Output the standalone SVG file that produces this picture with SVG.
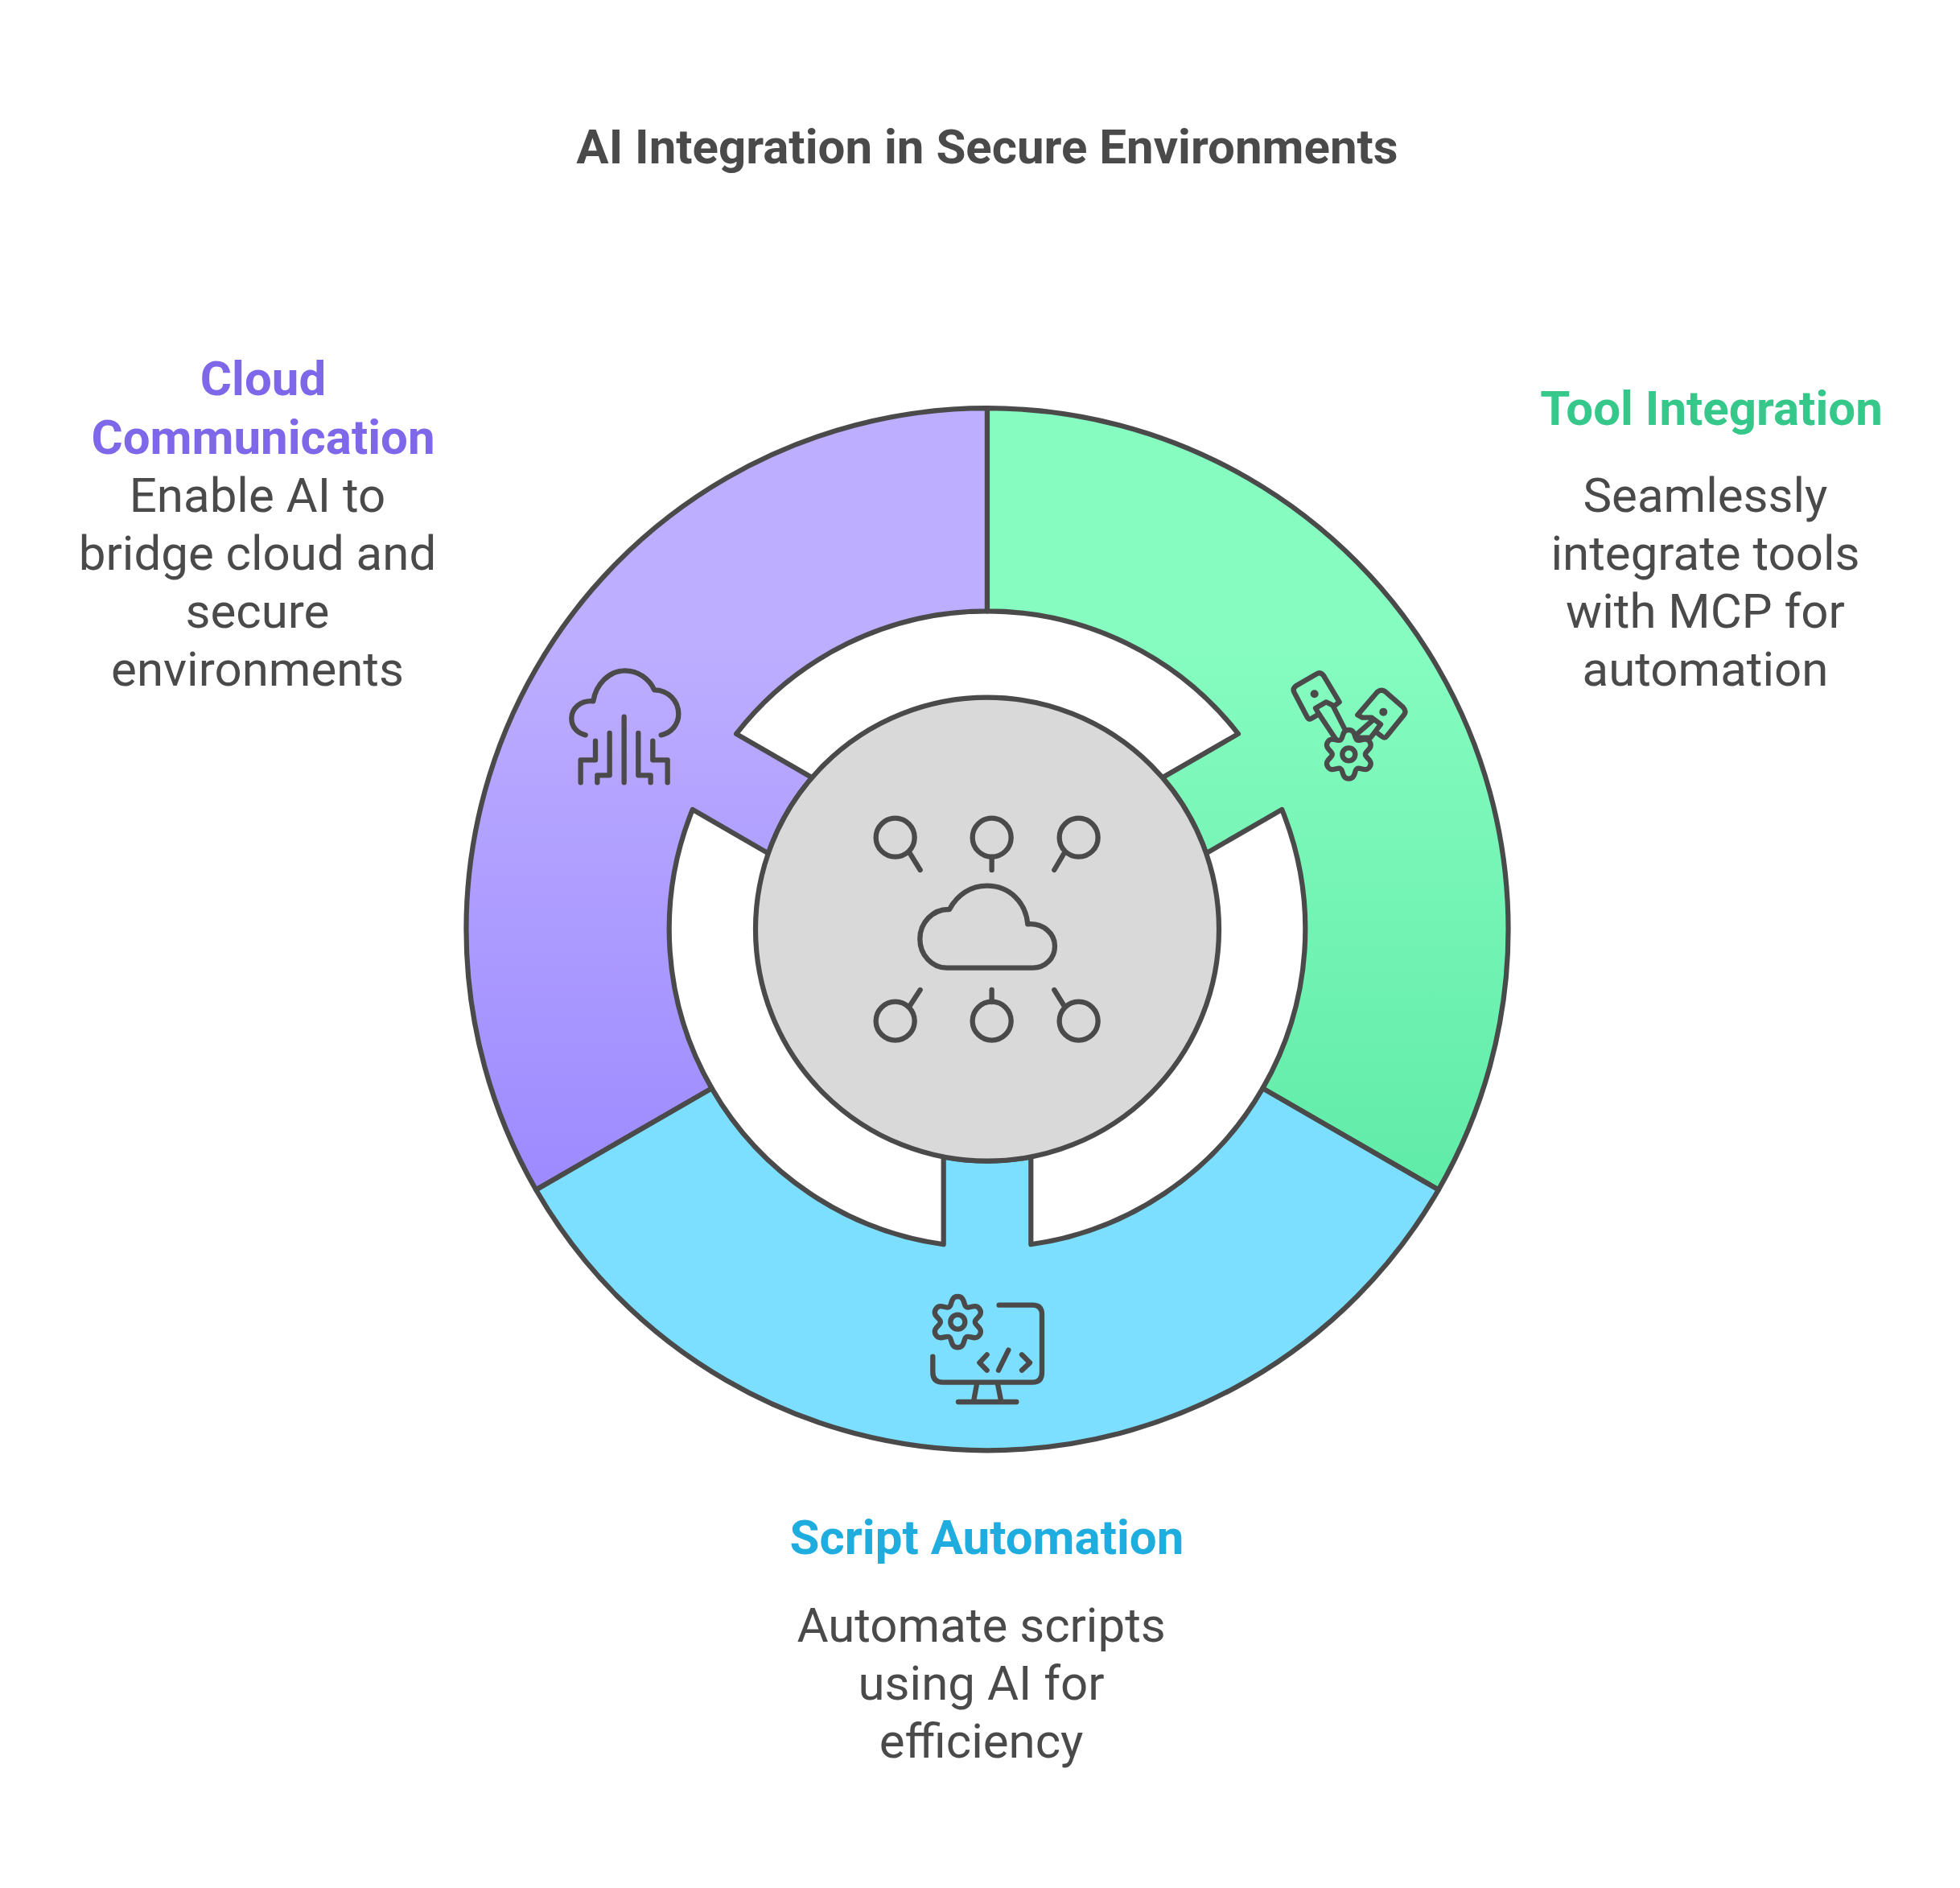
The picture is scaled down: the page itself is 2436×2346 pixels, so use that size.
<svg xmlns="http://www.w3.org/2000/svg" width="2436" height="2346" viewBox="0 0 2436 2346">
<style>
.s{stroke:#4a4a4a;stroke-width:6.2;stroke-linejoin:round;stroke-linecap:round}
.i{fill:none;stroke:#4a4a4a;stroke-width:19;stroke-linejoin:round;stroke-linecap:round}
.d{fill:#4a4a4a;stroke:none}
text{font-family:Roboto,"Liberation Sans",sans-serif;text-anchor:middle}
.b{font-size:60px;fill:#4a4a4a}
.h{font-size:60px;font-weight:700}
.t{font-size:60px;font-weight:700;fill:#4a4a4a}
</style>
<defs>
<linearGradient id="gp" x1="0" y1="0" x2="0" y2="1"><stop offset="0.3" stop-color="#BDAEFF"/><stop offset="1" stop-color="#9D8AFF"/></linearGradient>
<linearGradient id="gg" x1="0" y1="0" x2="0" y2="1"><stop offset="0.3" stop-color="#86FCC0"/><stop offset="1" stop-color="#60EBA8"/></linearGradient>
<path id="gear" d="M-34 -59C-22 -62 -30 -100 0 -100C30 -100 22 -62 34 -59C42.7 -50 71.6 -76 86.6 -50C101.6 -24 64.7 -12 68 0C64.7 12 101.6 24 86.6 50C71.6 76 42.7 50 34 59C22 62 30 100 0 100C-30 100 -22 62 -34 59C-42.7 50 -71.6 76 -86.6 50C-101.6 24 -64.7 12 -68 0C-64.7 -12 -101.6 -24 -86.6 -50C-71.6 -76 -42.7 -50 -34 -59Z"/>
</defs>
<rect width="2436" height="2346" fill="#ffffff"/>
<g id="title"><text class="t" x="1227" y="203">AI Integration in Secure Environments</text></g>
<g id="node-cloud-communication">
<path class="s" fill="url(#gp)" d="M1227 507.2A647.5 647.5 0 0 0 666.2 1478.45L884.66 1352.35A395.3 395.3 0 0 1 860.76 1005.94L954.95 1060.32A288 288 0 0 1 1009.25 966.28L915.06 911.9A395.3 395.3 0 0 1 1227 759.4Z"/>
<g class="i" transform="translate(680 800) scale(.3333)">
<path d="M143 340C110 332 91 308 91 278C91 240 125 210 172 214C182 150 232 100 290 100C340 100 380 130 400 172C450 172 490 212 490 262C490 302 462 332 425 340"/>
<path d="M180 362V433H125V517M233 333V490H187V517M287 272V517M340 333V490H386V517M394 362V433H449V517"/>
</g>
<text class="h" fill="#7F67EA" x="327" y="491">Cloud</text>
<text class="h" fill="#7F67EA" x="327" y="563.5">Communication</text>
<text class="b" x="320" y="636">Enable AI to</text>
<text class="b" x="320" y="708">bridge cloud and</text>
<text class="b" x="320" y="780">secure</text>
<text class="b" x="320" y="852">environments</text>
</g>
<g id="node-tool-integration">
<path class="s" fill="url(#gg)" d="M1227 507.2A647.5 647.5 0 0 1 1787.8 1478.45L1569.34 1352.35A395.3 395.3 0 0 0 1593.24 1005.94L1499.05 1060.32A288 288 0 0 0 1444.75 966.28L1538.94 911.9A395.3 395.3 0 0 0 1227 759.4Z"/>
<g class="i" transform="translate(1580 810) scale(.3333)">
<path d="M165 210L205 187L235 202L254 187L195 88Q182 74 170 82L92 127Q78 137 85 150L135 245Q142 255 150 248L178 232L165 210Z"/>
<path d="M178 232L240 325M232 205L275 290"/>
<path d="M322 235L395 150Q410 137 425 148L492 207Q505 222 495 235L430 315Q423 325 412 315L388 297M322 235L340 245L375 245L408 270L388 297L370 320L320 320M375 258L315 310"/>
<circle class="d" cx="161" cy="157" r="15"/><circle class="d" cx="418" cy="224" r="15"/>
<use href="#gear" transform="translate(289 382) scale(.91)" stroke-width="20.9"/>
<circle cx="289" cy="382" r="24"/>
</g>
<text class="h" fill="#36C78A" x="2127" y="528">Tool Integration</text>
<text class="b" x="2119.5" y="636">Seamlessly</text>
<text class="b" x="2119.5" y="708">integrate tools</text>
<text class="b" x="2119.5" y="780">with MCP for</text>
<text class="b" x="2119.5" y="852">automation</text>
</g>
<g id="node-script-automation">
<path class="s" fill="#7DDFFF" d="M666.2 1478.45A647.5 647.5 0 0 0 1787.8 1478.45L1569.34 1352.35A395.3 395.3 0 0 1 1281.3 1546.25V1437.5A288 288 0 0 1 1172.7 1437.5V1546.25A395.3 395.3 0 0 1 884.66 1352.35Z"/>
<g class="i" transform="translate(1130 1590) scale(.3333)">
<path d="M335 95H460Q495 95 495 130V345Q495 383 460 383H125Q88 383 88 345V287"/>
<path d="M252 390L240 455M330 390L343 455M183 456H400M290 280L262 310L290 338M420 280L450 310L420 338M370 263L333 338"/>
<use href="#gear" transform="translate(181 158) scale(.95)" stroke-width="20"/>
<circle cx="181" cy="158" r="27"/>
</g>
<text class="h" fill="#1FACDF" x="1226.5" y="1931">Script Automation</text>
<text class="b" x="1219.6" y="2040">Automate scripts</text>
<text class="b" x="1219.6" y="2112">using AI for</text>
<text class="b" x="1219.6" y="2184">efficiency</text>
</g>
<g id="node-center">
<circle class="s" fill="#D9D9D9" cx="1227" cy="1154.7" r="288"/>
<g class="i" transform="translate(1070 1000) scale(.3333)">
<circle cx="128" cy="122" r="72"/><circle cx="488" cy="122" r="72"/><circle cx="812" cy="122" r="72"/>
<circle cx="128" cy="806" r="72"/><circle cx="488" cy="806" r="72"/><circle cx="812" cy="806" r="72"/>
<path d="M182 180L221 243M488 195V243M758 180L721 243M221 690L182 750M488 690V735M721 690L758 750"/>
<path d="M330 390C360 335 410 302 470 302C555 302 615 365 622 445C680 440 723 480 723 527C723 572 688 608 640 608H320C265 608 220 560 220 500C220 440 268 388 330 390Z"/>
</g>
</g>
</svg>
